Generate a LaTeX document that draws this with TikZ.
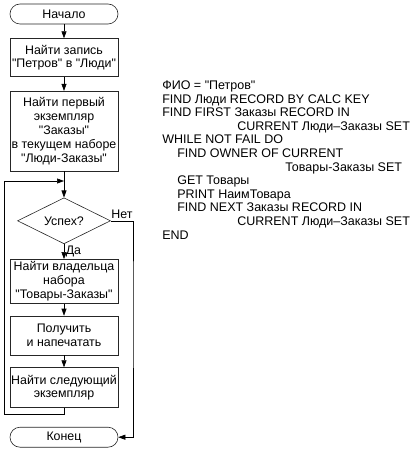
\documentclass[tikz,border=0pt]{standalone}
\usepackage{fontspec}
\newfontfamily\flowfont{Liberation Sans}
\usepackage{tikz}
\usetikzlibrary{arrows.meta,positioning,shapes.geometric}

\begin{document}
\begin{tikzpicture}[->,>={Triangle[length=7pt,width=5pt]},x=1pt,y=1pt,node distance=14pt,
                    font=\flowfont\fontsize{12.4}{13.8}\selectfont,line width=0.6pt]
              \tikzstyle{blk}=[draw=black!85,minimum width=108pt,align=center,inner xsep=1pt,inner ysep=2pt]
              \tikzstyle{term}=[blk,rounded corners=10pt,minimum height=20pt]
              \tikzstyle{cond}=[diamond,draw=black!85,minimum width=93pt,minimum height=46pt,inner sep=0pt,aspect=2]

              \useasboundingbox (0,0) rectangle (415,-454);

              \node[term]                     (start) at (64,-14)                 {Начало};
              \node[blk,minimum height=38pt]  (find)  [below=of start]            {Найти запись\\"Петров" в "Люди"};
              \node[blk,minimum height=80pt]  (first) [below=of find]             {Найти первый\\экземпляр\\"Заказы"\\в текущем наборе\\"Люди-Заказы"};
              \node[cond]                     (ok)    [below=26pt of first]       {Успех?};
              \node[blk,minimum height=44pt]  (owner) [below=15pt of ok]          {Найти владельца\\набора\\"Товары-Заказы"};
              \node[blk,minimum height=39pt]  (get)   [below=12pt of owner]       {Получить\\и напечатать};
              \node[blk,minimum height=40pt]  (next)  [below=12pt of get]         {Найти следующий\\экземпляр};
              \node[term]                     (stop)  [below=19pt of next]        {Конец};

              \coordinate (loopT) at (4,-181);
              \coordinate (loopB) at (4,-414);
              \coordinate (noR)   at (133,-300);

              \path (start) edge (find)
                    (find)  edge (first)
                    (first) edge (ok)
                    (ok)    edge node[right,inner sep=1.5pt] {Да} (owner)
                    (owner) edge (get)
                    (get)   edge (next);
              \draw (next.south) |- (loopB) -- (loopT) -- (first.south |- loopT);
              \draw (ok.east) -| node[pos=0.25,above,inner sep=1.5pt] {Нет} (noR) |- (stop.east);

              \node[anchor=north west,align=left,inner sep=0pt,font=\flowfont\fontsize{12.5}{13.6}\selectfont] (code) at (162,-80.5)
                   {ФИО = "Петров"\\
                    FIND Люди RECORD BY CALC KEY\\
                    FIND FIRST Заказы RECORD IN\\
                    \hspace*{75pt}CURRENT Люди–Заказы SET\\
                    WHILE NOT FAIL DO\\
                    \hspace*{15pt}FIND OWNER OF CURRENT\\
                    \hspace*{123pt}Товары-Заказы SET\\
                    \hspace*{15pt}GET Товары\\
                    \hspace*{15pt}PRINT НаимТовара\\
                    \hspace*{15pt}FIND NEXT Заказы RECORD IN\\
                    \hspace*{75pt}CURRENT Люди–Заказы SET\\
                    END};
\end{tikzpicture}
\end{document}
